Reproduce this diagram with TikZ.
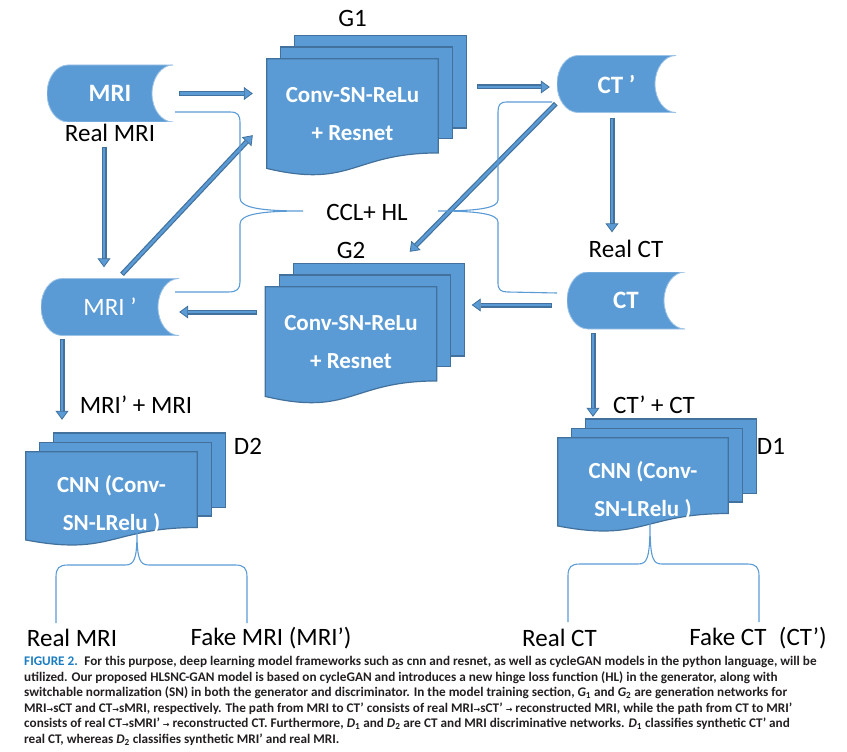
\documentclass[tikz,border=0pt]{standalone}
\usepackage{fontspec}
\setmainfont{Carlito}
\newfontfamily\capfont{Carlito}
\newfontfamily\arrowfont{DejaVu Sans}
\usepackage{xcolor}
\definecolor{shapefill}{HTML}{5B9BD5}
\definecolor{shapeline}{HTML}{41719C}
\definecolor{capblue}{HTML}{1A7CC1}
\definecolor{captext}{HTML}{231F20}
\usepackage{tikz}
\usetikzlibrary{positioning,arrows.meta,backgrounds,calc}

\newcommand\docstack[1]{%
  \filldraw[sheet] let \p1=(#1.south west),\p2=(#1.north east),\n1={\y2-\y1} in
    (\x1+28,\y2+0.2*\n1) rectangle (\x2+28,\y2-0.59*\n1);
  \filldraw[sheet] let \p1=(#1.south west),\p2=(#1.north east),\n1={\y2-\y1} in
    (\x1+14,\y2+0.1*\n1) rectangle (\x2+14,\y2-0.68*\n1);
  \filldraw[sheet] let \p1=(#1.south west),\p2=(#1.north east),\n1={\y2-\y1},\n2={(\x1+\x2)/2} in
    (\x1,\y2) -- (\x2,\y2) -- (\x2,\y2-0.802*\n1)
    .. controls (\n2,\y2-0.802*\n1) and (\n2,\y2-1.107*\n1) .. (\x1,\y2-0.934*\n1) -- cycle;
}
\newcommand\capto{{\arrowfont\fontsize{8}{10}\selectfont →}}
\newcommand\capsub[2]{\textit{#1}\textsubscript{#2}}

\begin{document}
\begin{tikzpicture}[x=1pt,y=1pt,
  store/.style={minimum width=126pt,minimum height=57pt,inner sep=0pt,text=white,
                font=\bfseries\fontsize{25}{27}\selectfont,
                path picture={\filldraw[fill=shapefill,draw=shapefill!60!white,line width=0.8pt]
                  let \p1=(path picture bounding box.south west),\p2=(path picture bounding box.north east),
                      \n1={(\y2-\y1)/2},\n2={(\y1+\y2)/2} in
                  (\x1+21,\y2) -- (\x2,\y2)
                  .. controls (\x2-11.6,\y2) and (\x2-21,\n2+0.55*\n1) .. (\x2-21,\n2)
                  .. controls (\x2-21,\n2-0.55*\n1) and (\x2-11.6,\y1) .. (\x2,\y1)
                  -- (\x1+21,\y1)
                  .. controls (\x1+9.4,\y1) and (\x1,\n2-0.55*\n1) .. (\x1,\n2)
                  .. controls (\x1,\n2+0.55*\n1) and (\x1+9.4,\y2) .. (\x1+21,\y2) -- cycle;}},
  storelight/.style={store,font=\fontsize{25}{27}\selectfont},
  doc/.style  ={minimum width=171pt,minimum height=117pt,inner sep=0pt,text=white,
                align=center,text depth=8pt,font=\bfseries\fontsize{23}{38}\selectfont},
  disc/.style ={doc,minimum height=94pt,text depth=0pt,text height=63pt},
  sheet/.style={fill=shapefill,draw=shapeline,line width=1.2pt},
  lbl/.style  ={inner sep=0pt,font=\fontsize{25}{27}\selectfont},
  arr/.style  ={draw=shapeline,line width=5pt,
                -{Triangle[length=9pt,width=13pt,line width=0.8pt,fill=shapefill]},
                postaction={draw=shapefill,line width=2.6pt,-,shorten >=9pt,shorten <=1pt}},
  brace/.style={draw=shapefill,line width=1.1pt},
  caption/.style={align=left,inner sep=0pt,text=captext,
                font=\capfont\bfseries\fontsize{13.2}{15.6}\selectfont}
]
\useasboundingbox (0,0) rectangle (847,-752);

\node[store]                          (mri)  at (110,-93.5) {MRI};
\node[storelight,minimum width=138pt] (mrip) at (110,-307)  {MRI ’};
\node[store,minimum width=119pt]      (ctp)  at (616.5,-84) {CT ’};
\node[store,minimum width=118pt]      (ct)   at (626,-300.5){CT};

\node[doc]                     (g1) at (352.5,-117.5) {Conv-SN-ReLu\\+ Resnet};
\node[doc]                     (g2) at (351,-345.5)   {Conv-SN-ReLu\\+ Resnet};
\node[disc]                    (d2) at (111.5,-499)   {CNN (Conv-\\SN-LRelu )};
\node[disc,minimum width=170pt](d1) at (643,-485)     {CNN (Conv-\\SN-LRelu )};

\begin{scope}[on background layer]
  \docstack{g1}
  \docstack{g2}
  \docstack{d2}
  \docstack{d1}
\end{scope}

\node[lbl,below=2pt of mri]  (realmri) {Real MRI};
\node[lbl,above=32pt of g1]  (g1name)  {G1};
\node[lbl,above=28pt of g2]  (g2name)  {G2};
\node[lbl,above=13.5pt of ct](realct)  {Real CT};
\node[lbl] (ccl)    at (367,-212)   {CCL+ HL};
\node[lbl] (summri) at (136,-405)   {MRI’ + MRI};
\node[lbl] (sumct)  at (654,-405)   {CT’ + CT};
\node[lbl] (d2name) at (248,-446)   {D2};
\node[lbl] (d1name) at (771,-446)   {D1};
\node[lbl] (realmrib) at (72,-638)  {Real MRI};
\node[lbl] (fakemri)  at (271,-638) {Fake MRI (MRI’)};
\node[lbl] (realctb)  at (559.5,-638) {Real CT};
\node[lbl] (fakect)   at (758,-638) {Fake CT\enspace(CT’)};

\draw[arr] ($(mri.east)+(6,0)$) -- ($(mri.east -| g1.west)+(-14,0)$);
\draw[arr] ($(ctp.west -| g1.east)+(39,-3)$) -- ($(ctp.west)+(-7,-3)$);
\draw[arr] ($(ctp.south)+(-4.5,-5)$) -- ($(ctp.south |- realct.north)+(-4.5,8)$);
\draw[arr] ($(ct.west)+(-15,-4.5)$) -- ($(ct.west -| g2.east)+(35,-4.5)$);
\draw[arr] ($(g2.west |- mrip.east)+(-8,-5)$) -- ($(mrip.east)+(0,-5)$);
\draw[arr] ($(mrip.south)+(-48,-3)$) -- ($(mrip.south |- d2.north)+(-48,32)$);
\draw[arr] ($(ct.south)+(-33,-4)$) -- ($(ct.south |- d1.north)+(-33,21)$);
\draw[arr] ($(realmri.south)+(-6,-5)$) -- ($(mrip.north)+(-6,11)$);
\draw[arr] ($(mrip.north)+(12,4)$) -- ($(g1.south west)+(-14,41)$);
\draw[arr] ($(ctp.south west)+(-1,9)$) -- ($(g2.north east)+(-27,35)$);

\draw[brace] (175,-112) -- (230,-112) .. controls (238,-112) and (240,-115) .. (240,-123)
  -- (240,-198) .. controls (240,-208) and (262,-211) .. (303,-211)
  .. controls (262,-211) and (240,-214) .. (240,-224)
  -- (240,-282) .. controls (240,-289) and (237,-292) .. (228,-292) -- (175,-292);
\draw[brace] (552,-102) -- (507,-102) .. controls (500,-102) and (498,-105) .. (498,-112)
  -- (498,-200) .. controls (498,-208) and (478,-211) .. (438,-211)
  .. controls (478,-211) and (498,-214) .. (498,-222)
  -- (498,-283) .. controls (498,-290) and (501,-292) .. (508,-292) -- (557,-293);
\draw[brace] (56,-623) -- (56,-577) .. controls (56,-568) and (59,-565) .. (68,-565)
  -- (125,-565) .. controls (134,-565) and (137,-560) .. (137,-532)
  .. controls (137,-560) and (140,-565) .. (149,-565)
  -- (235,-565) .. controls (244,-565) and (247,-568) .. (247,-577) -- (247,-623);
\draw[brace] (568,-622) -- (568,-576) .. controls (568,-567) and (571,-564) .. (580,-564)
  -- (638,-564) .. controls (647,-564) and (650,-559) .. (650,-523)
  .. controls (650,-559) and (653,-564) .. (662,-564)
  -- (747,-564) .. controls (756,-564) and (759,-567) .. (759,-576) -- (759,-622);

\node[caption,anchor=north west] (cap) at (24,-656) {%
  \textcolor{capblue}{FIGURE 2.}\enspace For this purpose, deep learning model frameworks such as cnn and resnet, as well as cycleGAN models in the python language, will be\\
  utilized. Our proposed HLSNC-GAN model is based on cycleGAN and introduces a new hinge loss function (HL) in the generator, along with\\
  switchable normalization (SN) in both the generator and discriminator. In the model training section, \capsub{G}{1} and \capsub{G}{2} are generation networks for\\
  MRI\capto sCT and CT\capto sMRI, respectively. The path from MRI to CT’ consists of real MRI\capto sCT’ \capto{} reconstructed MRI, while the path from CT to MRI’\\
  consists of real CT\capto sMRI’ \capto{} reconstructed CT. Furthermore, \capsub{D}{1} and \capsub{D}{2} are CT and MRI discriminative networks. \capsub{D}{1} classifies synthetic CT’ and\\
  real CT, whereas \capsub{D}{2} classifies synthetic MRI’ and real MRI.};
\end{tikzpicture}
\end{document}
